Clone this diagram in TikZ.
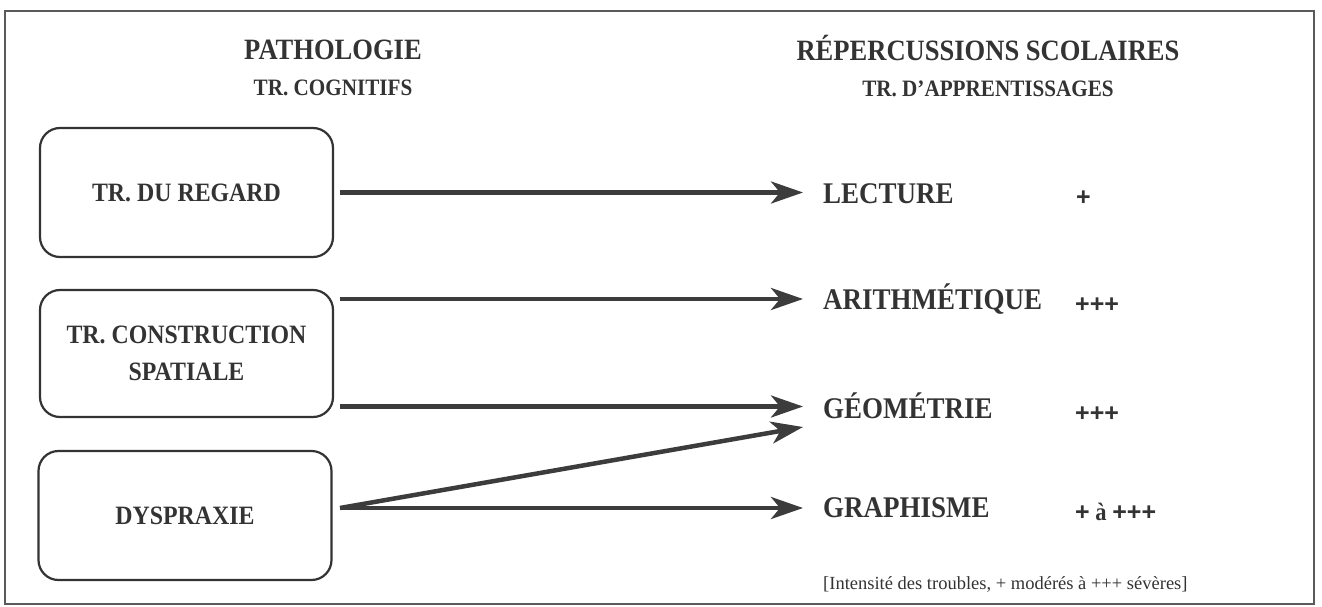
\documentclass[tikz,border=0pt]{standalone}
\usepackage{fontspec}
\setmainfont{Liberation Serif}
\newfontfamily\cbold[FakeStretch=0.9, UprightFont={* Bold}, BoldFont={* Bold}]{Liberation Serif}
\newfontfamily\plusfont[UprightFont={* Bold}, BoldFont={* Bold}]{Liberation Sans}
\newcommand{\pls}{{\plusfont +}}
\usetikzlibrary{arrows.meta}
\definecolor{ink}{HTML}{333333}
\definecolor{arrowc}{HTML}{3C3C3C}
\definecolor{framec}{HTML}{5A5A5A}
\tikzset{
  heading/.style={anchor=base, inner sep=0, text=ink, font=\cbold\fontsize{29.5}{33}\selectfont},
  subheading/.style={anchor=base, inner sep=0, text=ink, font=\cbold\fontsize{23.5}{27}\selectfont},
  probbox/.style={draw=ink, line width=2.2pt, rounded corners=20pt, minimum width=293pt, text=ink,
     align=center, inner sep=0, font=\cbold\fontsize{26.5}{37}\selectfont},
  subject/.style={anchor=base west, inner sep=0, text=ink, font=\cbold\fontsize{30}{33}\selectfont},
  intensity/.style={anchor=base west, inner sep=0, text=ink, font=\cbold\fontsize{25}{30}\selectfont},
  note/.style={anchor=base west, inner sep=0, text=ink, font=\fontsize{18.5}{22}\selectfont},
  arr/.style={draw=arrowc, line width=4.5pt, -{Stealth[length=32pt, width=22pt, inset=9pt]}},
}
\begin{document}
\begin{tikzpicture}[x=1pt, y=-1pt]
\useasboundingbox (0,0) rectangle (1322,607);
\draw[framec, line width=2pt] (5,11) rectangle (1314,604);

\node[heading] (h1) at (333,60) {PATHOLOGIE};
\node[subheading] (s1) at (333,96) {TR. COGNITIFS};
\node[heading] (h2) at (988,61) {RÉPERCUSSIONS SCOLAIRES};
\node[subheading] (s2) at (988,97) {TR. D’APPRENTISSAGES};

\node[probbox, minimum height=129pt] (b1) at (186.5,192.5) {TR. DU REGARD};
\node[probbox, minimum height=127pt] (b2) at (186.5,353.5) {TR. CONSTRUCTION\\SPATIALE};
\node[probbox, minimum height=129pt] (b3) at (185,515.5) {DYSPRAXIE};

\node[subject] (lec) at (823,203) {LECTURE};
\node[subject] (ari) at (823,309) {ARITHMÉTIQUE};
\node[subject] (geo) at (823,418) {GÉOMÉTRIE};
\node[subject] (gra) at (823,517) {GRAPHISME};

\node[intensity] (ilec) at (1076,205) {\pls};
\node[intensity] (iari) at (1075,312) {\pls\pls\pls};
\node[intensity] (igeo) at (1075,421) {\pls\pls\pls};
\node[intensity] (igra) at (1075,520) {\pls{} à \pls\pls\pls};

\node[note] (nt) at (823,589) {[Intensité des troubles, + modérés à +++ sévères]};

\coordinate (l1) at (340,192.5);
\coordinate (l2) at (340,299);
\coordinate (l3) at (340,406.5);
\coordinate (l4) at (340,508);
\coordinate (t1) at (803,192.5);
\coordinate (t2) at (803,299);
\coordinate (t3) at (803,406.5);
\coordinate (t3b) at (803,427);
\coordinate (t4) at (803,508);

\draw[arr] (l1) -- (t1);
\draw[arr] (l2) -- (t2);
\draw[arr] (l3) -- (t3);
\draw[arr] (l4) -- (t3b);
\draw[arr] (l4) -- (t4);
\end{tikzpicture}
\end{document}
